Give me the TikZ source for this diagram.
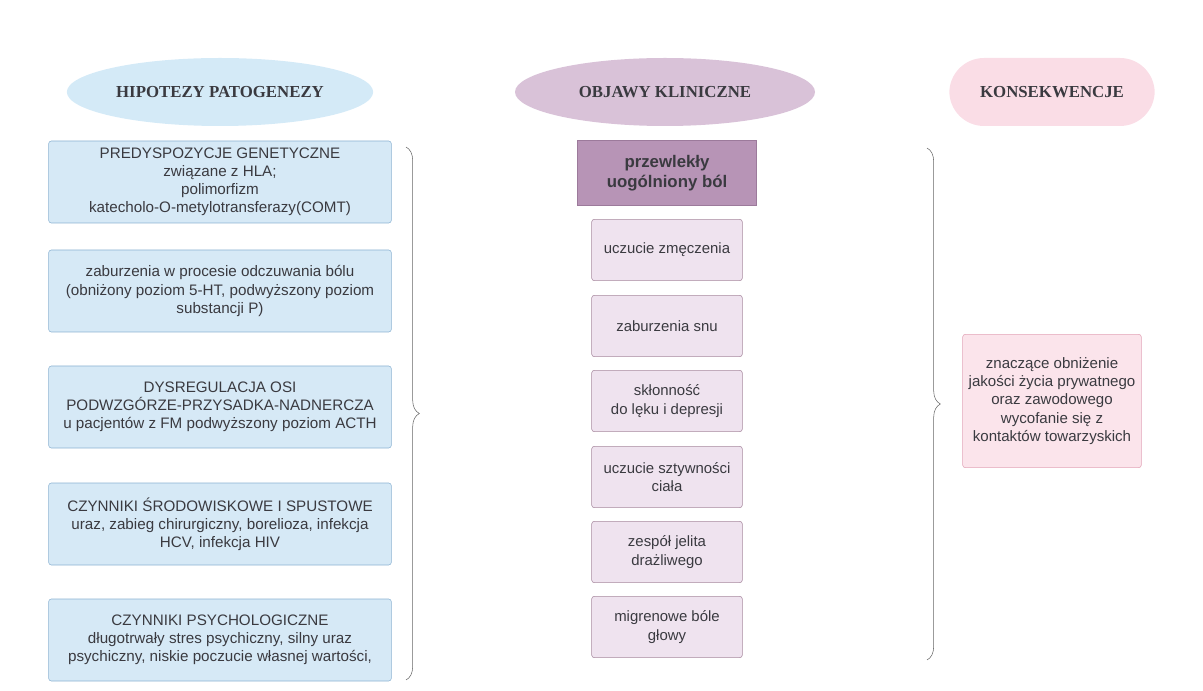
\documentclass[tikz,border=0pt]{standalone}
\usepackage{fontspec}
\setmainfont{Liberation Sans}
\newfontfamily\headfont{Liberation Serif}
\usepackage{tikz}
\usetikzlibrary{shapes.geometric,decorations.pathreplacing}

\definecolor{txt}{HTML}{3A3A40}
\definecolor{hyphead}{HTML}{D4EAF7}
\definecolor{hypfill}{HTML}{D6E9F6}
\definecolor{hypline}{HTML}{8CB3D2}
\definecolor{objhead}{HTML}{D9C2D8}
\definecolor{bolfill}{HTML}{B794B6}
\definecolor{bolline}{HTML}{9C7A9B}
\definecolor{objfill}{HTML}{EFE3EF}
\definecolor{objline}{HTML}{A8899F}
\definecolor{konhead}{HTML}{FADDE6}
\definecolor{konfill}{HTML}{FBE4EB}
\definecolor{konline}{HTML}{E2A4B7}

\begin{document}
\begin{tikzpicture}[x=0.75pt,y=-0.75pt,
    head/.style={text=txt,font=\headfont\bfseries\fontsize{12.6}{15}\selectfont,minimum height=51pt},
    hyp/.style={draw=hypline,fill=hypfill,rounded corners=2pt,text=txt,align=center,
        minimum width=257pt,minimum height=61.5pt,font=\fontsize{11.4}{13.6}\selectfont},
    objaw/.style={draw=objline,fill=objfill,rounded corners=2pt,text=txt,align=center,
        minimum width=113pt,minimum height=46pt,font=\fontsize{11.2}{13.6}\selectfont},
    brace/.style={draw=black!60,decorate,decoration={brace,amplitude=10pt}}]
        \useasboundingbox (0,0) rectangle (1203,691);
        % naglowki
        \node[head,ellipse,fill=hyphead,minimum width=225pt] (hhyp) at (220,92) {HIPOTEZY PATOGENEZY};
        \node[head,ellipse,fill=objhead,minimum width=225pt] (hobj) at (665,92) {OBJAWY KLINICZNE};
        \node[head,rounded corners=26pt,fill=konhead,minimum width=154pt] (hkon) at (1052,92) {KONSEKWENCJE};

        % hipotezy
        \node[hyp] (gen) at (220,182) {PREDYSPOZYCJE GENETYCZNE\\ związane z HLA;\\ polimorfizm\\ katecholo-O-metylotransferazy(COMT)};
        \node[hyp] (bol) at (220,291) {zaburzenia w procesie odczuwania bólu\\ (obniżony poziom 5-HT, podwyższony poziom\\ substancji P)};
        \node[hyp] (osi) at (220,407) {DYSREGULACJA OSI\\ PODWZGÓRZE-PRZYSADKA-NADNERCZA\\ u pacjentów z FM podwyższony poziom ACTH};
        \node[hyp] (srod) at (220,524) {CZYNNIKI ŚRODOWISKOWE I SPUSTOWE\\ uraz, zabieg chirurgiczny, borelioza, infekcja\\ HCV, infekcja HIV};
        \node[hyp] (psych) at (220,640) {CZYNNIKI PSYCHOLOGICZNE\\ długotrwały stres psychiczny, silny uraz\\ psychiczny, niskie poczucie własnej wartości,};

        % objawy
        \node[draw=bolline,fill=bolfill,text=txt,align=center,minimum width=134pt,minimum height=49pt,
            font=\bfseries\fontsize{12.6}{15}\selectfont] (przew) at (667,173) {przewlekły\\ uogólniony ból};
        \node[objaw] (zm) at (667,250) {uczucie zmęczenia};
        \node[objaw] (sen) at (667,326) {zaburzenia snu};
        \node[objaw] (lek) at (667,401) {skłonność\\ do lęku i depresji};
        \node[objaw] (szt) at (667,477) {uczucie sztywności\\ ciała};
        \node[objaw] (jel) at (667,552) {zespół jelita\\ drażliwego};
        \node[objaw] (mig) at (667,627) {migrenowe bóle\\ głowy};

        % konsekwencje
        \node[draw=konline,fill=konfill,rounded corners=2pt,text=txt,align=center,minimum width=134pt,
            minimum height=100pt,font=\fontsize{11.3}{13.7}\selectfont] (kon) at (1052,401)
            {znaczące obniżenie\\ jakości życia prywatnego\\ oraz zawodowego\\ wycofanie się z\\ kontaktów towarzyskich};

        % klamry
        \coordinate (lt) at (406,147);
        \coordinate (lb) at (406,680);
        \coordinate (rt) at (927,148);
        \coordinate (rb) at (927,660);
        \draw[brace] (lt) -- (lb);
        \draw[brace] (rt) -- (rb);
    \end{tikzpicture}
\end{document}
